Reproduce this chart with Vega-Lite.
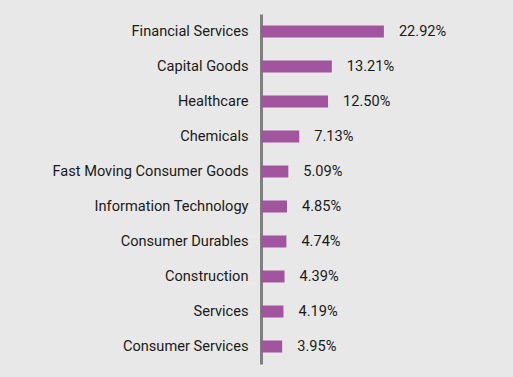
{
  "$schema": "https://vega.github.io/schema/vega-lite/v6.json",
  "autosize": "none",
  "width": 252,
  "height": 350,
  "padding": {"left": 261, "top": 14, "right": 0, "bottom": 13},
  "background": "#e8e8e8",
  "config": {"view": {"stroke": null}, "font": "Roboto"},
  "data": {"values": [
    {"sector": "Financial Services", "pct": 22.92},
    {"sector": "Capital Goods", "pct": 13.21},
    {"sector": "Healthcare", "pct": 12.50},
    {"sector": "Chemicals", "pct": 7.13},
    {"sector": "Fast Moving Consumer Goods", "pct": 5.09},
    {"sector": "Information Technology", "pct": 4.85},
    {"sector": "Consumer Durables", "pct": 4.74},
    {"sector": "Construction", "pct": 4.39},
    {"sector": "Services", "pct": 4.19},
    {"sector": "Consumer Services", "pct": 3.95}
  ]},
  "encoding": {
    "y": {"field": "sector", "type": "nominal", "sort": null, "title": null,
      "scale": {"paddingInner": 0, "paddingOuter": 0},
      "axis": {"domainColor": "#808080", "domainWidth": 3, "ticks": false, "labelPadding": 13,
        "labelFontSize": 14.6, "labelColor": "#1a1a1a", "labelFont": "Roboto", "labelLimit": 400, "grid": false}},
    "x": {"field": "pct", "type": "quantitative", "scale": {"domain": [0, 47]}, "axis": null}
  },
  "layer": [
    {"mark": {"type": "bar", "color": "#a2559f", "height": 12}},
    {"mark": {"type": "text", "align": "left", "dx": 15, "fontSize": 14.6, "color": "#1a1a1a", "font": "Roboto",
       "text": {"expr": "format(datum.pct, '.2f') + '%'"}}}
  ]
}
